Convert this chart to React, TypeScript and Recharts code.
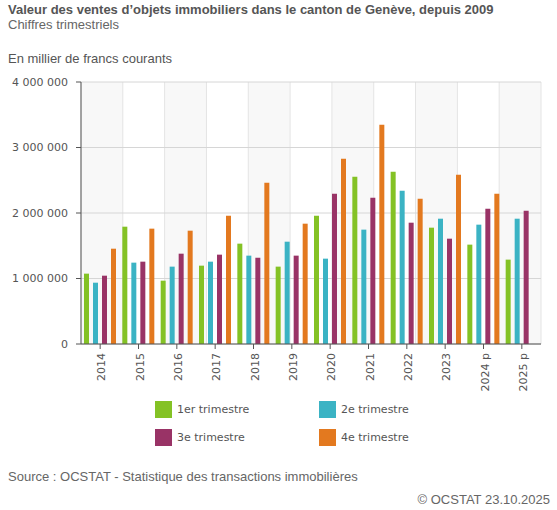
import React from 'react';
import { BarChart, Bar, XAxis, YAxis, CartesianGrid } from 'recharts';

const categories = ['2014', '2015', '2016', '2017', '2018', '2019', '2020', '2021', '2022', '2023', '2024 p', '2025 p'];
const q1 = [1074000, 1791000, 967000, 1196000, 1532000, 1181000, 1959000, 2555000, 2631000, 1776000, 1517000, 1288000];
const q2 = [936000, 1242000, 1181000, 1257000, 1349000, 1562000, 1303000, 1746000, 2341000, 1913000, 1822000, 1913000];
const q3 = [1043000, 1257000, 1379000, 1364000, 1318000, 1349000, 2295000, 2234000, 1852000, 1608000, 2066000, 2036000];
const q4: (number | null)[] = [1455000, 1761000, 1730000, 1959000, 2463000, 1837000, 2829000, 3349000, 2219000, 2585000, 2295000, null];
const yTicks = [0, 1000000, 2000000, 3000000, 4000000];
const seriesNames = ['1er trimestre', '2e trimestre', '3e trimestre', '4e trimestre'];
const colors = ['#84c225', '#3bb3c4', '#993366', '#e3791f'];

const data = categories.map((c, i) => ({ cat: c, q1: q1[i], q2: q2[i], q3: q3[i], q4: q4[i] }));
const bandTicks = categories.map((_, i) => i).concat([categories.length]);

const fmt = (v: number) => String(v).replace(/\B(?=(\d{3})+(?!\d))/g, ' ');

const XTick = (props: any) => {
  const { x, y, payload } = props;
  return (
    <g transform={`translate(${x},${y})`}>
      <text transform="rotate(-90)" x={0} y={0} dy={5} textAnchor="end" fill="#555" fontSize={11} fontFamily="DejaVu Sans">
        {payload.value}
      </text>
    </g>
  );
};

export default function App() {
  return (
    <div style={{ position: 'absolute', left: 0, top: 0, width: 557, height: 510, background: '#fff', fontFamily: 'Liberation Sans, Arial, sans-serif', color: '#555' }}>
      <div style={{ position: 'absolute', left: 8, top: 1.5, fontSize: 13, fontWeight: 'bold', color: '#555', whiteSpace: 'nowrap' }}>
        Valeur des ventes d’objets immobiliers dans le canton de Genève, depuis 2009
      </div>
      <div style={{ position: 'absolute', left: 8, top: 17, fontSize: 13, color: '#666', whiteSpace: 'nowrap' }}>
        Chiffres trimestriels
      </div>
      <div style={{ position: 'absolute', left: 8, top: 51, fontSize: 13, color: '#555', whiteSpace: 'nowrap' }}>
        En millier de francs courants
      </div>
      <div style={{ position: 'absolute', left: 0, top: 0 }}>
        <BarChart width={557} height={400} data={data} margin={{ top: 82, right: 16, left: 0, bottom: 0 }} barSize={5} barGap={4}>
          <CartesianGrid xAxisId="g" horizontal={false} vertical={true} stroke="#e4e4e4" verticalFill={['#f8f8f8', '#ffffff']} fillOpacity={1} />
          <CartesianGrid xAxisId="g" horizontal={true} vertical={false} stroke="#d6d6d6" />
          <XAxis xAxisId="g" type="number" domain={[0, categories.length]} ticks={bandTicks} hide />
          <XAxis dataKey="cat" height={56} tick={<XTick />} tickSize={5} tickMargin={4} interval={0} axisLine={{ stroke: '#555' }} tickLine={{ stroke: '#555' }} />
          <YAxis
            width={81}
            domain={[0, 4000000]}
            ticks={yTicks}
            tickFormatter={fmt}
            tickSize={5}
            tickMargin={8}
            axisLine={{ stroke: '#555' }}
            tickLine={{ stroke: '#555' }}
            tick={{ fill: '#555', fontSize: 11, fontFamily: 'DejaVu Sans' }}
          />
          <Bar dataKey="q1" name={seriesNames[0]} fill={colors[0]} isAnimationActive={false} />
          <Bar dataKey="q2" name={seriesNames[1]} fill={colors[1]} isAnimationActive={false} />
          <Bar dataKey="q3" name={seriesNames[2]} fill={colors[2]} isAnimationActive={false} />
          <Bar dataKey="q4" name={seriesNames[3]} fill={colors[3]} isAnimationActive={false} />
        </BarChart>
      </div>
      {seriesNames.map((n, i) => (
        <div key={n} style={{ position: 'absolute', left: i % 2 === 0 ? 155 : 319, top: i < 2 ? 401 : 429, height: 17, display: 'flex', alignItems: 'center', whiteSpace: 'nowrap' }}>
          <div style={{ width: 17, height: 17, background: colors[i] }} />
          <span style={{ marginLeft: 5, fontSize: 11, fontFamily: 'DejaVu Sans', color: '#555' }}>{n}</span>
        </div>
      ))}
      <div style={{ position: 'absolute', left: 8, top: 469, fontSize: 13, color: '#666', whiteSpace: 'nowrap' }}>
        Source : OCSTAT - Statistique des transactions immobilières
      </div>
      <div style={{ position: 'absolute', right: 7, top: 492, fontSize: 13, color: '#666', whiteSpace: 'nowrap' }}>
        © OCSTAT 23.10.2025
      </div>
    </div>
  );
}
